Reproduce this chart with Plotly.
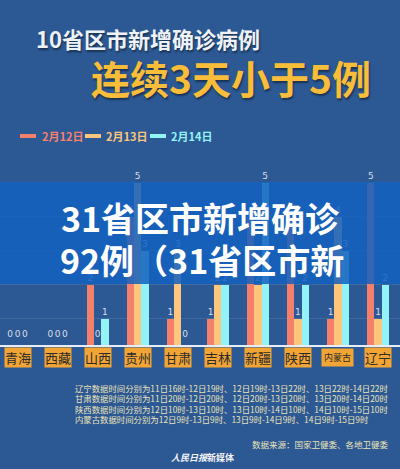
import numpy as np
import plotly.graph_objects as go

provinces = ['青海', '西藏', '山西', '贵州', '甘肃', '吉林', '新疆', '陕西', '内蒙古', '辽宁']
dates = ['2月12日', '2月13日', '2月14日']
feb12 = [0, 0, 2, 4, 1, 1, 4, 4, 1, 5]
feb13 = [0, 0, 0, 5, 3, 2, 2, 1, 4, 1]
feb14 = [0, 0, 1, 3, 0, 2, 5, 2, 3, 2]
colors = ['#f4806c', '#fcc67c', '#93f3f6']

notes = [
    '辽宁数据时间分别为11日16时-12日19时、12日19时-13日22时、13日22时-14日22时',
    '甘肃数据时间分别为11日20时-12日20时、12日20时-13日20时、13日20时-14日20时',
    '陕西数据时间分别为12日10时-13日10时、13日10时-14日10时、14日10时-15日10时',
    '内蒙古数据时间分别为12日9时-13日9时、13日9时-14日9时、14日9时-15日9时',
]

W, H = 400, 469
T, B = 170, 124
PH = H - T - B
FONT = 'Noto Sans CJK SC'


def px(x):
    return x / W


def py(y):
    return (H - B - y) / PH


fig = go.Figure()
idx = np.arange(len(provinces))
bw = 0.182
series = [feb12, feb13, feb14]
for k, (vals, name, col) in enumerate(zip(series, dates, colors)):
    xs = idx + (k - 1) * bw
    v = np.array(vals, dtype=float)
    fig.add_trace(go.Bar(x=xs, y=v, width=bw, marker=dict(color=col, line=dict(width=0)),
                         name=name, showlegend=False, hoverinfo='skip'))
    fig.add_trace(go.Scatter(x=xs, y=np.maximum(v, 0.35) + 0.18, mode='text',
                             text=[str(int(a)) for a in v], textposition='middle center',
                             textfont=dict(family='DejaVu Sans', size=9, color='#d8dde8'),
                             cliponaxis=False, showlegend=False, hoverinfo='skip'))

shapes = []
annotations = []

# banner
shapes.append(dict(type='rect', xref='paper', yref='paper', x0=0, x1=1,
                   y0=py(284), y1=py(182), fillcolor='rgba(20,98,192,0.86)',
                   line=dict(width=0), layer='above'))

# titles
annotations.append(dict(text='<b>10省区市新增确诊病例</b>', xref='paper', yref='paper',
                        x=px(34), y=py(38), xanchor='left', yanchor='middle', showarrow=False,
                        font=dict(family=FONT, size=22, color='#eef2f7',
                                  shadow='1px 2px 2px rgba(0,0,0,0.45)')))
annotations.append(dict(text='<b>连续3天小于5例</b>', xref='paper', yref='paper',
                        x=px(89), y=py(77), xanchor='left', yanchor='middle', showarrow=False,
                        font=dict(family=FONT, size=39, color='#f9bd3a',
                                  shadow='1px 2px 2px rgba(0,0,0,0.45)')))

# legend
leg = [(20, 40), (85, 104), (150, 169)]
for (sx, tx), name, col in zip(leg, dates, colors):
    shapes.append(dict(type='rect', xref='paper', yref='paper', x0=px(sx), x1=px(sx + 16),
                       y0=py(138), y1=py(134), fillcolor=col, line=dict(width=0)))
    annotations.append(dict(text='<b>' + name + '</b>', xref='paper', yref='paper',
                            x=px(tx), y=py(136), xanchor='left', yanchor='middle', showarrow=False,
                            font=dict(family=FONT, size=11, color=col)))

# banner text
annotations.append(dict(text='<b>31省区市新增确诊</b>', xref='paper', yref='paper',
                        x=px(201), y=py(217), xanchor='center', yanchor='middle', showarrow=False,
                        font=dict(family=FONT, size=34, color='#ffffff')))
annotations.append(dict(text='<b>92例（31省区市新</b>', xref='paper', yref='paper',
                        x=px(202), y=py(259), xanchor='center', yanchor='middle', showarrow=False,
                        font=dict(family=FONT, size=34, color='#ffffff')))

# category labels
for i, p in enumerate(provinces):
    fs = 9 if len(p) > 2 else 13
    annotations.append(dict(text=p, xref='x', yref='paper', x=i, y=py(357),
                            xanchor='center', yanchor='middle', showarrow=False,
                            bgcolor='#f2a535', borderpad=0 if len(p) == 2 else 2,
                            font=dict(family=FONT, size=fs, color='#2b2b2b')))

# notes
for j, line in enumerate(notes):
    annotations.append(dict(text=line, xref='paper', yref='paper', x=px(73), y=py(388 + j * 10.3),
                            xanchor='left', yanchor='middle', showarrow=False,
                            font=dict(family=FONT, size=8.4, color='#ece3b8')))
annotations.append(dict(text='数据来源：国家卫健委、各地卫健委', xref='paper', yref='paper',
                        x=px(391), y=py(444), xanchor='right', yanchor='middle', showarrow=False,
                        font=dict(family=FONT, size=8.5, color='#ece3b8')))
annotations.append(dict(text='<b><i>人民日报</i>新媒体</b>', xref='paper', yref='paper',
                        x=px(203), y=py(457), xanchor='center', yanchor='middle', showarrow=False,
                        font=dict(family=FONT, size=9, color='#f4f4f4')))

fig.update_layout(
    width=W, height=H,
    margin=dict(l=0, r=0, t=T, b=B, pad=0),
    paper_bgcolor='#2c5994', plot_bgcolor='rgba(0,0,0,0)',
    barmode='overlay', bargap=0,
    shapes=shapes, annotations=annotations,
    showlegend=False,
    xaxis=dict(range=[-0.437, 9.548], showticklabels=False, showgrid=False, zeroline=False,
               showline=True, linecolor='#e6eefa', linewidth=2, ticks='', fixedrange=True),
    yaxis=dict(range=[0.235, 5.38], showticklabels=False, showgrid=True, dtick=1, tick0=0,
               gridcolor='rgba(255,255,255,0.10)', gridwidth=1, zeroline=False,
               showline=False, ticks='', fixedrange=True),
)

fig.write_html('out.html', config={'displayModeBar': False},
               post_script="document.body.style.margin='0';document.body.style.padding='0';"
                           "document.body.style.overflow='hidden';")
